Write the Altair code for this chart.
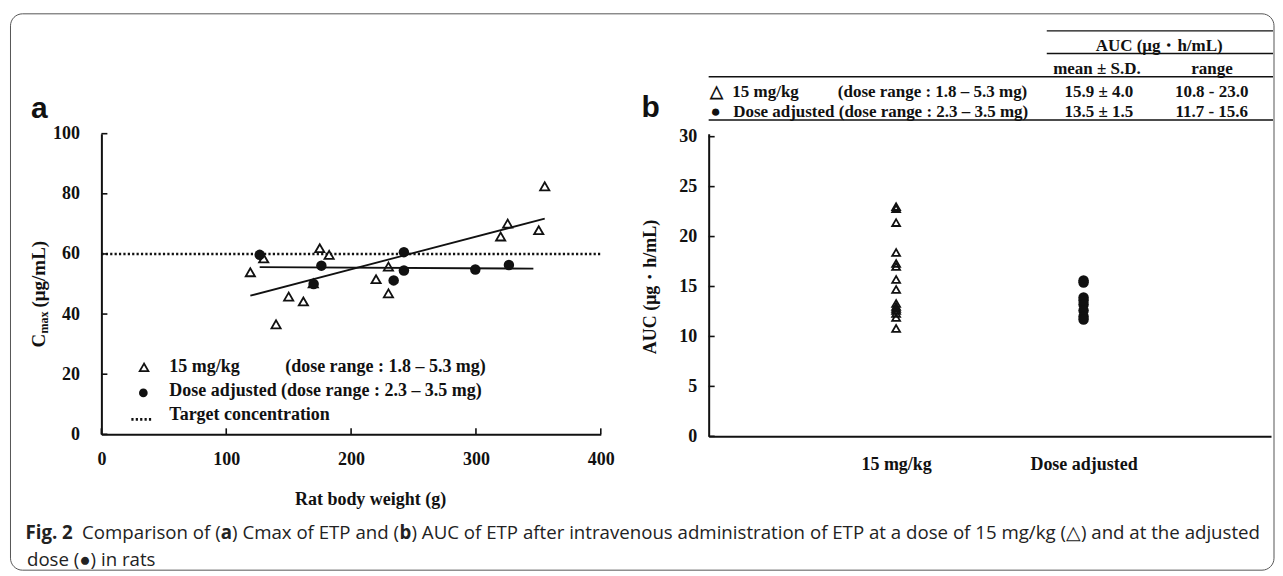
import altair as alt
import pandas as pd

SERIF = "Liberation Serif"
SANS = "Liberation Sans"
CAP = "Open Sans"
INK = "#111111"

# ---------------- data ----------------
# Panel a : Cmax vs rat body weight
tri_weight = [119.3, 130.0, 139.9, 150.0, 161.8, 169.7, 174.9, 182.4, 220.0, 229.9, 229.9, 319.8, 325.4, 350.3, 355.1]
tri_cmax = [53.9, 58.5, 36.6, 45.8, 44.2, 50.2, 61.9, 59.7, 51.6, 55.8, 46.9, 65.8, 70.1, 67.9, 82.5]
adj_weight = [126.8, 170.0, 176.2, 234.1, 242.3, 242.3, 299.5, 326.4]
adj_cmax = [59.7, 50.0, 56.1, 51.2, 60.6, 54.5, 54.8, 56.3]
adj_fit_extent = [126.8, 346.0]
target_conc = [60]
weight_ticks = [0, 100, 200, 300, 400]
cmax_ticks = [0, 20, 40, 60, 80, 100]

# Panel b : AUC by group
auc_groups = ["15 mg/kg", "Dose adjusted"]
auc_15 = [23.0, 22.8, 21.4, 18.4, 17.3, 17.0, 15.7, 14.7, 13.3, 13.0, 12.8, 12.6, 12.3, 11.9, 10.8]
auc_adj = [15.6, 15.4, 13.9, 13.6, 13.2, 12.6, 12.0, 11.7]
auc_ticks = [0, 5, 10, 15, 20, 25, 30]

# table / legend texts
legend_rows = ["15 mg/kg", "Dose adjusted (dose range : 2.3 \u2013 3.5 mg)", "Target concentration"]
dose_range_15 = "(dose range : 1.8 \u2013 5.3 mg)"
table_header = ["AUC (\u03bcg\u30fbh/mL)", "mean \u00b1 S.D.", "range"]
table_means = ["15.9 \u00b1 4.0", "13.5 \u00b1 1.5"]
table_ranges = ["10.8 - 23.0", "11.7 - 15.6"]
caption_parts = [
    "Fig. 2", "Comparison of (", "a", ") Cmax of ETP and (", "b",
    ") AUC of ETP after intravenous administration of ETP at a dose of 15 mg/kg (\u25b3) and at the adjusted",
    "dose (\u25cf) in rats",
]

# ---------------- geometry ----------------
W_A, H_A = 500, 301
W_B, H_B = 563, 303

one = pd.DataFrame({"k": [0]})


def txt(s, x, y, size=18, font=SERIF, weight="bold", align="left",
        baseline="middle", angle=0, color=INK):
    return alt.Chart(one).mark_text(
        text=s, font=font, fontSize=size, fontWeight=weight, align=align,
        baseline=baseline, angle=angle, color=color,
    ).encode(x=alt.value(x), y=alt.value(y))


def hline(x1, x2, y, width=1.3, dash=None):
    kw = dict(color=INK, strokeWidth=width)
    if dash:
        kw["strokeDash"] = dash
    return alt.Chart(one).mark_rule(**kw).encode(
        x=alt.value(x1), x2=alt.value(x2), y=alt.value(y))


# ---------------- panel a ----------------
df_tri = pd.DataFrame({"weight": tri_weight, "cmax": tri_cmax})
df_adj = pd.DataFrame({"weight": adj_weight, "cmax": adj_cmax})

xa = alt.Scale(domain=[0, 400], nice=False, zero=False)
ya = alt.Scale(domain=[0, 100], nice=False, zero=False)

x_axis_a = alt.Axis(
    orient="bottom", values=weight_ticks, ticks=False, grid=False, labelFlush=False,
    labelPadding=16, labelFont=SERIF, labelFontWeight="bold", labelFontSize=18,
    labelColor=INK, domainColor=INK, domainWidth=2,
    title="Rat body weight (g)", titleFont=SERIF, titleFontWeight="bold",
    titleFontSize=18, titleColor=INK, titleX=269, titleY=65,
    titleBaseline="middle", titleAlign="center",
)
y_axis_a = alt.Axis(
    orient="left", values=cmax_ticks, ticks=False, grid=False,
    labelPadding=22, labelFont=SERIF, labelFontWeight="bold", labelFontSize=18,
    labelColor=INK, domainColor=INK, domainWidth=2, title="",
)

XA = alt.X("weight:Q", scale=xa, axis=x_axis_a)
YA = alt.Y("cmax:Q", scale=ya, axis=y_axis_a)

border = alt.Chart(one).mark_rect(
    fillOpacity=0, stroke="#555555", strokeWidth=1, cornerRadius=12
).encode(x=alt.value(-91), x2=alt.value(1174), y=alt.value(-120), y2=alt.value(437))

target = alt.Chart(pd.DataFrame({"cmax": target_conc})).mark_rule(
    color=INK, strokeWidth=2.6, strokeDash=[2.2, 2.2]
).encode(y=YA, x=alt.value(0), x2=alt.value(W_A))

fit_tri = alt.Chart(df_tri).transform_regression("weight", "cmax").mark_line(
    color=INK, strokeWidth=1.8
).encode(x=XA, y=YA)

fit_adj = alt.Chart(df_adj).transform_regression(
    "weight", "cmax", extent=adj_fit_extent
).mark_line(color=INK, strokeWidth=1.8).encode(x=XA, y=YA)

pts_tri = alt.Chart(df_tri).mark_point(
    shape="triangle-up", filled=False, size=85, strokeWidth=1.8, color=INK, opacity=1
).encode(x=XA, y=YA)

pts_adj = alt.Chart(df_adj).mark_point(
    shape="circle", filled=True, size=110, color=INK, opacity=1
).encode(x=XA, y=YA)

ticks_y_a = alt.Chart(pd.DataFrame({"cmax": cmax_ticks})).mark_rule(color=INK, strokeWidth=1.6).encode(
    y=YA, x=alt.value(0), x2=alt.value(6))
ticks_x_a = alt.Chart(pd.DataFrame({"weight": weight_ticks})).mark_rule(color=INK, strokeWidth=1.6).encode(
    x=XA, y=alt.value(H_A), y2=alt.value(H_A - 6))

# legend (inside panel a)
leg_tri = alt.Chart(one).mark_point(
    shape="triangle-up", filled=False, size=75, strokeWidth=1.8, color=INK, opacity=1
).encode(x=alt.value(42.7), y=alt.value(234))
leg_dot = alt.Chart(one).mark_point(
    shape="circle", filled=True, size=75, color=INK, opacity=1
).encode(x=alt.value(42), y=alt.value(259.5))
leg_line = hline(30, 52, 286, width=2.6, dash=[2.2, 2.2])

legend_layers = [
    leg_tri, leg_dot, leg_line,
    txt(legend_rows[0], 68, 234),
    txt(dose_range_15, 184, 234),
    txt(legend_rows[1], 68, 258),
    txt(legend_rows[2], 68, 282),
]

# y-axis title of panel a (C with subscript "max")
ytitle_a = [
    txt("C", -62, 214, size=19, angle=270),
    txt("max", -57, 200, size=12, angle=270),
    txt("(\u03bcg/mL)", -62, 174, size=19, angle=270),
]

# caption
cap_y1, cap_y2 = 400, 427
CAPC = "#222222"
CS = 18.7
caption = [
    txt(caption_parts[0], -76, cap_y1, size=CS, font=CAP, weight="bold", color=CAPC),
    txt(caption_parts[1], -19.3, cap_y1, size=CS, font=CAP, weight="normal", color=CAPC),
    txt(caption_parts[2], 119.5, cap_y1, size=CS, font=CAP, weight="bold", color=CAPC),
    txt(caption_parts[3], 130.8, cap_y1, size=CS, font=CAP, weight="normal", color=CAPC),
    txt(caption_parts[4], 298.5, cap_y1, size=CS, font=CAP, weight="bold", color=CAPC),
    txt(caption_parts[5], 310.5, cap_y1, size=CS, font=CAP, weight="normal", color=CAPC),
    txt(caption_parts[6], -74.5, cap_y2, size=CS, font=CAP, weight="normal", color=CAPC),
]

label_a = txt("a", -70.4, -16, size=30, font=SANS, baseline="alphabetic")

panel_a = alt.layer(
    border, target, fit_tri, fit_adj, pts_tri, pts_adj, ticks_y_a, ticks_x_a,
    *legend_layers, *ytitle_a, *caption, label_a,
).properties(width=W_A, height=H_A)

# ---------------- panel b ----------------
df_b15 = pd.DataFrame({"group": [auc_groups[0]] * len(auc_15), "auc": auc_15})
df_badj = pd.DataFrame({"group": [auc_groups[1]] * len(auc_adj), "auc": auc_adj})

xb = alt.Scale(type="point", domain=auc_groups, padding=1)
yb = alt.Scale(domain=[0, 30.3], nice=False, zero=False)

x_axis_b = alt.Axis(
    orient="bottom", ticks=False, grid=False, labelAngle=0, labelPadding=19,
    labelFont=SERIF, labelFontWeight="bold", labelFontSize=18, labelColor=INK,
    domainColor=INK, domainWidth=2, title="",
)
y_axis_b = alt.Axis(
    orient="left", values=auc_ticks, ticks=False, grid=False,
    labelPadding=12, labelFont=SERIF, labelFontWeight="bold", labelFontSize=18,
    labelColor=INK, domainColor=INK, domainWidth=2,
    title=table_header[0], titleFont=SERIF, titleFontWeight="bold", titleFontSize=18,
    titleColor=INK, titleAngle=270, titleX=-58, titleY=153,
    titleBaseline="middle", titleAlign="center",
)

XB = alt.X("group:N", scale=xb, axis=x_axis_b, sort=auc_groups)
YB = alt.Y("auc:Q", scale=yb, axis=y_axis_b)

b_tri = alt.Chart(df_b15).mark_point(
    shape="triangle-up", filled=False, size=62, strokeWidth=1.8, color=INK, opacity=1
).encode(x=XB, y=YB)
b_dot = alt.Chart(df_badj).mark_point(
    shape="circle", filled=True, size=110, color=INK, opacity=1
).encode(x=XB, y=YB)
ticks_y_b = alt.Chart(pd.DataFrame({"auc": auc_ticks})).mark_rule(color=INK, strokeWidth=1.6).encode(
    y=YB, x=alt.value(0), x2=alt.value(6))

table = [
    hline(338.5, 565, -103),
    txt(table_header[0], 451, -88, size=17, align="center"),
    hline(338.5, 565, -80.3),
    txt(table_header[1], 388.7, -64.7, size=17, align="center"),
    txt(table_header[2], 504, -64.7, size=17, align="center"),
    hline(0, 565, -57),
    txt("\u25b3", 7.4, -41.3, size=17, align="center"),
    txt(legend_rows[0], 23.7, -41.3, size=17),
    txt(dose_range_15, 129.3, -41.3, size=17),
    txt(table_means[0], 390.7, -41.3, size=17, align="center"),
    txt(table_ranges[0], 503.6, -41.3, size=17, align="center"),
    txt("\u25cf", 7, -21.3, size=17, align="center"),
    txt(legend_rows[1], 24.5, -21.3, size=17),
    txt(table_means[1], 390.7, -21.3, size=17, align="center"),
    txt(table_ranges[1], 503.6, -21.3, size=17, align="center"),
    hline(0, 565, -13.7),
]

label_b = txt("b", -67.3, -16.3, size=30, font=SANS, baseline="alphabetic")

panel_b = alt.layer(b_tri, b_dot, ticks_y_b, *table, label_b).properties(width=W_B, height=H_B)

chart = alt.hconcat(panel_a, panel_b, spacing=108, bounds="flush").properties(
    padding={"left": 1.5, "top": 4.5, "right": 0, "bottom": 0},
    background="white",
).configure_view(stroke=None)

chart.save("out.html", embed_options={"renderer": "svg", "actions": False})
